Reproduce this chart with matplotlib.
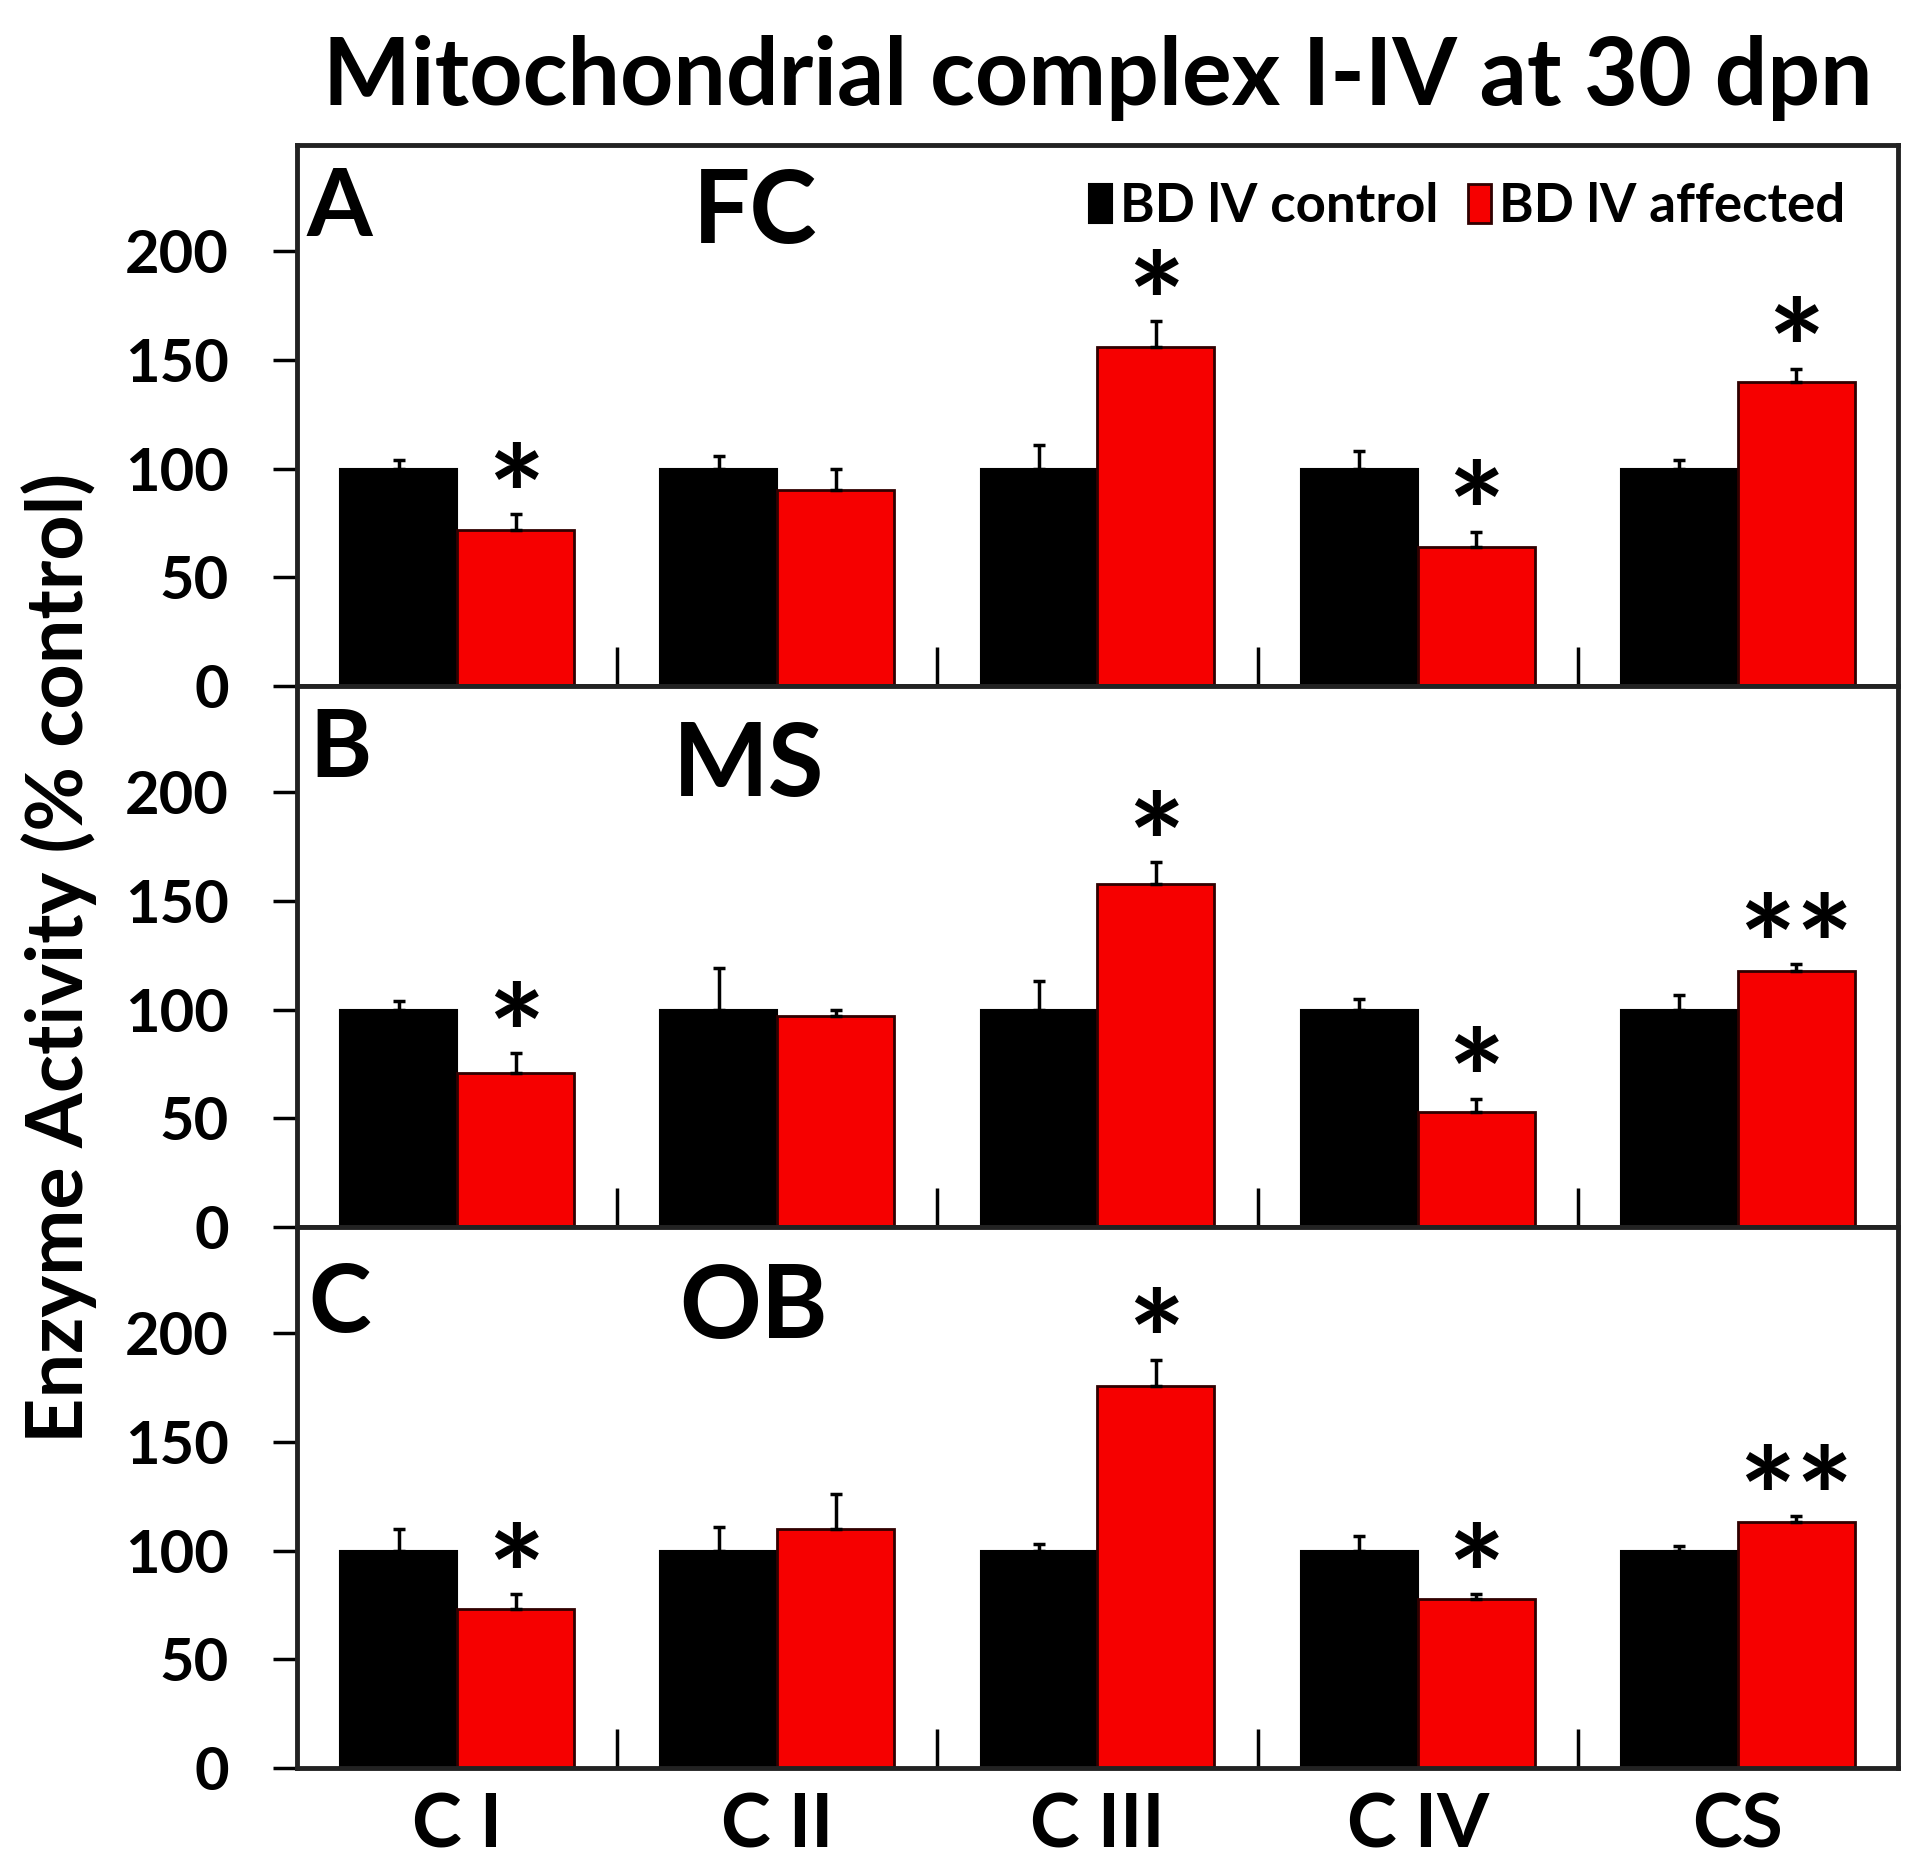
import numpy as np
import matplotlib.pyplot as plt

plt.rcParams['font.family'] = ['Lato', 'DejaVu Sans']
plt.rcParams['font.weight'] = 'bold'

complexes = ['C I', 'C II', 'C III', 'C IV', 'CS']
regions = ['FC', 'MS', 'OB']
panel_letters = ['A', 'B', 'C']

# % control
control_fc = [100, 100, 100, 100, 100]
control_fc_err = [4, 6, 11, 8, 4]
affected_fc = [72, 90, 156, 64, 140]
affected_fc_err = [7, 10, 12, 7, 6]
stars_fc = ['*', '', '*', '*', '*']

control_ms = [100, 100, 100, 100, 100]
control_ms_err = [4, 19, 13, 5, 7]
affected_ms = [71, 97, 158, 53, 118]
affected_ms_err = [9, 3, 10, 6, 3]
stars_ms = ['*', '', '*', '*', '**']

control_ob = [100, 100, 100, 100, 100]
control_ob_err = [10, 11, 3, 7, 2]
affected_ob = [73, 110, 176, 78, 113]
affected_ob_err = [7, 16, 12, 2, 3]
stars_ob = ['*', '', '*', '*', '**']

controls = [control_fc, control_ms, control_ob]
controls_err = [control_fc_err, control_ms_err, control_ob_err]
affecteds = [affected_fc, affected_ms, affected_ob]
affecteds_err = [affected_fc_err, affected_ms_err, affected_ob_err]
stars = [stars_fc, stars_ms, stars_ob]

red = '#f60000'
w = 0.365
x = np.arange(len(complexes))

fig, axes = plt.subplots(3, 1, figsize=(19.2, 18.64), dpi=100, sharex=True)
fig.subplots_adjust(left=0.1547, right=0.9885, bottom=0.0515, top=0.9222, hspace=0)

# label positions (axes fraction): letter x, letter top, region x, region top
letter_pos = [(0.006, 0.962), (0.008, 0.962), (0.007, 0.935)]
region_pos = [(0.247, 0.958), (0.235, 0.935), (0.239, 0.933)]

for i, ax in enumerate(axes):
    ekw = dict(ecolor='black', elinewidth=2.5, capsize=4, capthick=2.5)
    ax.bar(x - w / 2, controls[i], w, color='black', edgecolor='black', linewidth=1.5,
           yerr=[np.zeros(5), controls_err[i]], error_kw=ekw, label='BD lV control', zorder=2)
    ax.bar(x + w / 2, affecteds[i], w, color=red, edgecolor='#300000', linewidth=2,
           yerr=[np.zeros(5), affecteds_err[i]], error_kw=ekw, label='BD lV affected', zorder=2)
    for j, s in enumerate(stars[i]):
        if s:
            ax.annotate(s, (x[j] + w / 2, affecteds[i][j] + affecteds_err[i][j]),
                        xytext=(0, 6), textcoords='offset points', ha='center', va='center',
                        fontsize=98, fontweight='bold')
    ax.set_ylim(0, 249)
    ax.set_xlim(-0.5, 4.5)
    ax.set_yticks([0, 50, 100, 150, 200])
    ax.tick_params(axis='y', direction='out', length=17, width=2.5, pad=32, labelsize=43)
    ax.set_xticks(x + 0.5, minor=True)
    ax.tick_params(axis='x', which='minor', direction='in', length=28, width=2.5, bottom=True, top=False)
    ax.tick_params(axis='x', which='major', length=0, pad=17, labelsize=54)
    for sp in ax.spines.values():
        sp.set_linewidth(3.5)
        sp.set_color('#222222')
    ax.text(letter_pos[i][0], letter_pos[i][1], panel_letters[i], transform=ax.transAxes,
            ha='left', va='top', fontsize=68, fontweight='bold')
    ax.text(region_pos[i][0], region_pos[i][1], regions[i], transform=ax.transAxes,
            ha='left', va='top', fontsize=73, fontweight='bold')

axes[-1].set_xticks(x)
axes[-1].set_xticklabels(complexes)

axes[0].legend(loc='upper right', bbox_to_anchor=(0.997, 1.02), ncol=2, frameon=False, fontsize=38,
               handlelength=0.45, handleheight=0.75, handletextpad=0.15, columnspacing=0.55)

fig.text(0.572, 0.958, 'Mitochondrial complex I-IV at 30 dpn', ha='center', va='center',
         fontsize=67, fontweight='bold')
fig.text(0.031, 0.486, 'Enzyme Activity (% control)', rotation=90, ha='center', va='center',
         fontsize=57, fontweight='bold')

fig.savefig('out.png')
